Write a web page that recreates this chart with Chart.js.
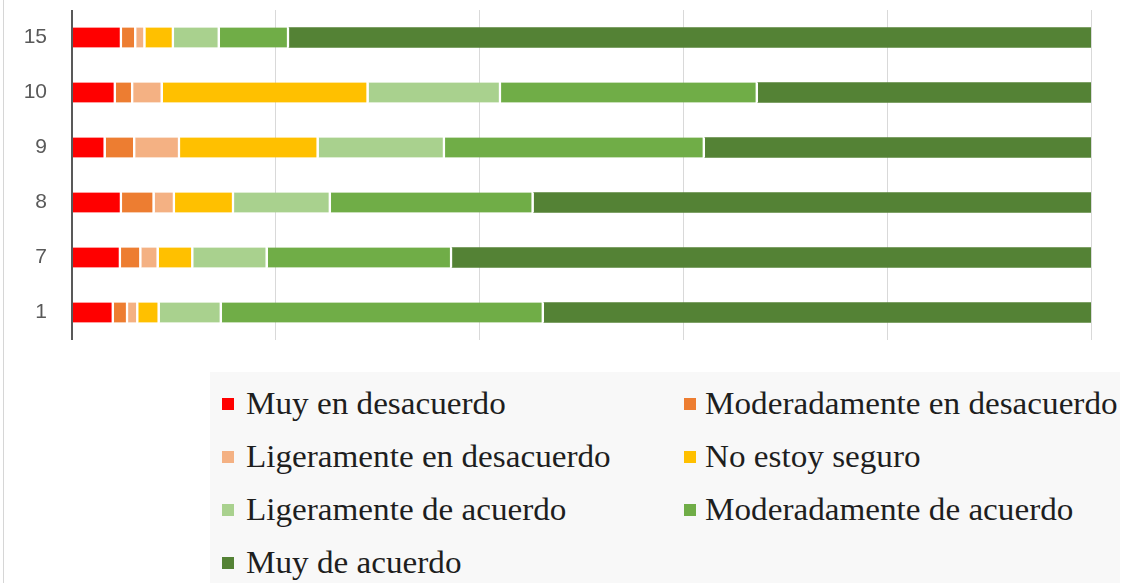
<!DOCTYPE html>
<html>
<head>
<meta charset="utf-8">
<script src="https://cdn.jsdelivr.net/npm/chart.js@4/dist/chart.umd.min.js"></script>
<style>
  html, body { margin: 0; padding: 0; background: #fff; }
  #wrap { position: relative; width: 1125px; height: 583px; overflow: hidden; }
  #frame { position: absolute; left: 3px; top: 0; width: 1px; height: 583px; background: #d6d6d6; }
  #legend {
    position: absolute; left: 210px; top: 372px; width: 910px; height: 211px;
    background: #f8f8f8;
    font-family: 'Liberation Serif', 'Times New Roman', serif; font-size: 31px; color: #1e1e1e;
  }
  .item { position: absolute; height: 53px; line-height: 53px; white-space: nowrap; }
  .box { position: absolute; left: 0; top: 21px; width: 12px; height: 12px; }
  .txt { position: absolute; display: inline-block; transform: scaleX(1.07); transform-origin: left center; }
</style>
</head>
<body>
<div id="wrap">
  <canvas id="c" width="1125" height="583"></canvas>
  <div id="frame"></div>
  <div id="legend"></div>
</div>
<script>
// rows, top to bottom
const categories = ['15', '10', '9', '8', '7', '1']

const seriesNames = [
  'Muy en desacuerdo',
  'Moderadamente en desacuerdo',
  'Ligeramente en desacuerdo',
  'No estoy seguro',
  'Ligeramente de acuerdo',
  'Moderadamente de acuerdo',
  'Muy de acuerdo',
]

// percent of answers, one value per row
const muyDesacuerdo = [4.9, 4.3, 3.3, 4.9, 4.8, 4.1]
const moderadamenteDesacuerdo = [1.4, 1.7, 2.9, 3.2, 2.0, 1.4]
const ligeramenteDesacuerdo = [0.9, 2.9, 4.4, 2.0, 1.7, 1.0]
const noSeguro = [2.8, 20.2, 13.6, 5.8, 3.4, 2.1]
const ligeramenteAcuerdo = [4.5, 13.0, 12.4, 9.5, 7.3, 6.1]
const moderadamenteAcuerdo = [6.8, 25.2, 25.5, 19.9, 18.1, 31.6]
const muyAcuerdo = [78.7, 32.7, 37.9, 54.7, 62.7, 53.7]

const tickValues = [0, 20, 40, 60, 80, 100]

const colors = ['#ff0000', '#ed7d31', '#f4b183', '#ffc000', '#a9d18e', '#70ad47', '#548235']
const series = [
  muyDesacuerdo,
  moderadamenteDesacuerdo,
  ligeramenteDesacuerdo,
  noSeguro,
  ligeramenteAcuerdo,
  moderadamenteAcuerdo,
  muyAcuerdo,
]

const datasets = series.map((values, i) => ({
  label: seriesNames[i],
  data: values,
  backgroundColor: colors[i],
  borderColor: '#ffffff',
  borderWidth: { top: 0, bottom: 0, left: 0, right: i === series.length - 1 ? 0 : 2.5 },
  borderSkipped: false,
  barThickness: 20,
}))

new Chart(document.getElementById('c'), {
  type: 'bar',
  data: { labels: categories, datasets },
  options: {
    indexAxis: 'y',
    responsive: false,
    animation: false,
    layout: { padding: { top: 10, right: 34, bottom: 243, left: 0 } },
    plugins: { legend: { display: false }, tooltip: { enabled: false } },
    scales: {
      x: {
        stacked: true,
        min: tickValues[0],
        max: tickValues[tickValues.length - 1],
        afterBuildTicks: (scale) => {
          scale.ticks = tickValues.map((v) => ({ value: v }))
        },
        ticks: { display: false },
        border: { display: false },
        grid: {
          drawTicks: false,
          color: (ctx) => (ctx.index === 0 ? '#595959' : '#d9d9d9'),
          lineWidth: (ctx) => (ctx.index === 0 ? 2 : 1),
        },
      },
      y: {
        stacked: true,
        afterFit: (scale) => {
          scale.width = 72
          // label padding should not push the plot down
          scale.paddingTop = 0
          scale.paddingBottom = 0
        },
        border: { display: false },
        grid: { display: false, drawTicks: false },
        ticks: {
          padding: 25,
          color: '#595959',
          font: { family: "'Liberation Sans', Arial, sans-serif", size: 21 },
        },
      },
    },
  },
})

// legend in two columns
const legend = document.getElementById('legend')
seriesNames.forEach((name, i) => {
  const row = Math.floor(i / 2)
  const col = i % 2
  const item = document.createElement('div')
  item.className = 'item'
  item.style.left = (col === 0 ? 12 : 474) + 'px'
  item.style.top = 5 + row * 53 + 'px'
  const box = document.createElement('span')
  box.className = 'box'
  box.style.background = colors[i]
  const txt = document.createElement('span')
  txt.className = 'txt'
  txt.style.left = (col === 0 ? 24 : 21) + 'px'
  txt.textContent = name
  item.appendChild(box)
  item.appendChild(txt)
  legend.appendChild(item)
})
</script>
</body>
</html>
